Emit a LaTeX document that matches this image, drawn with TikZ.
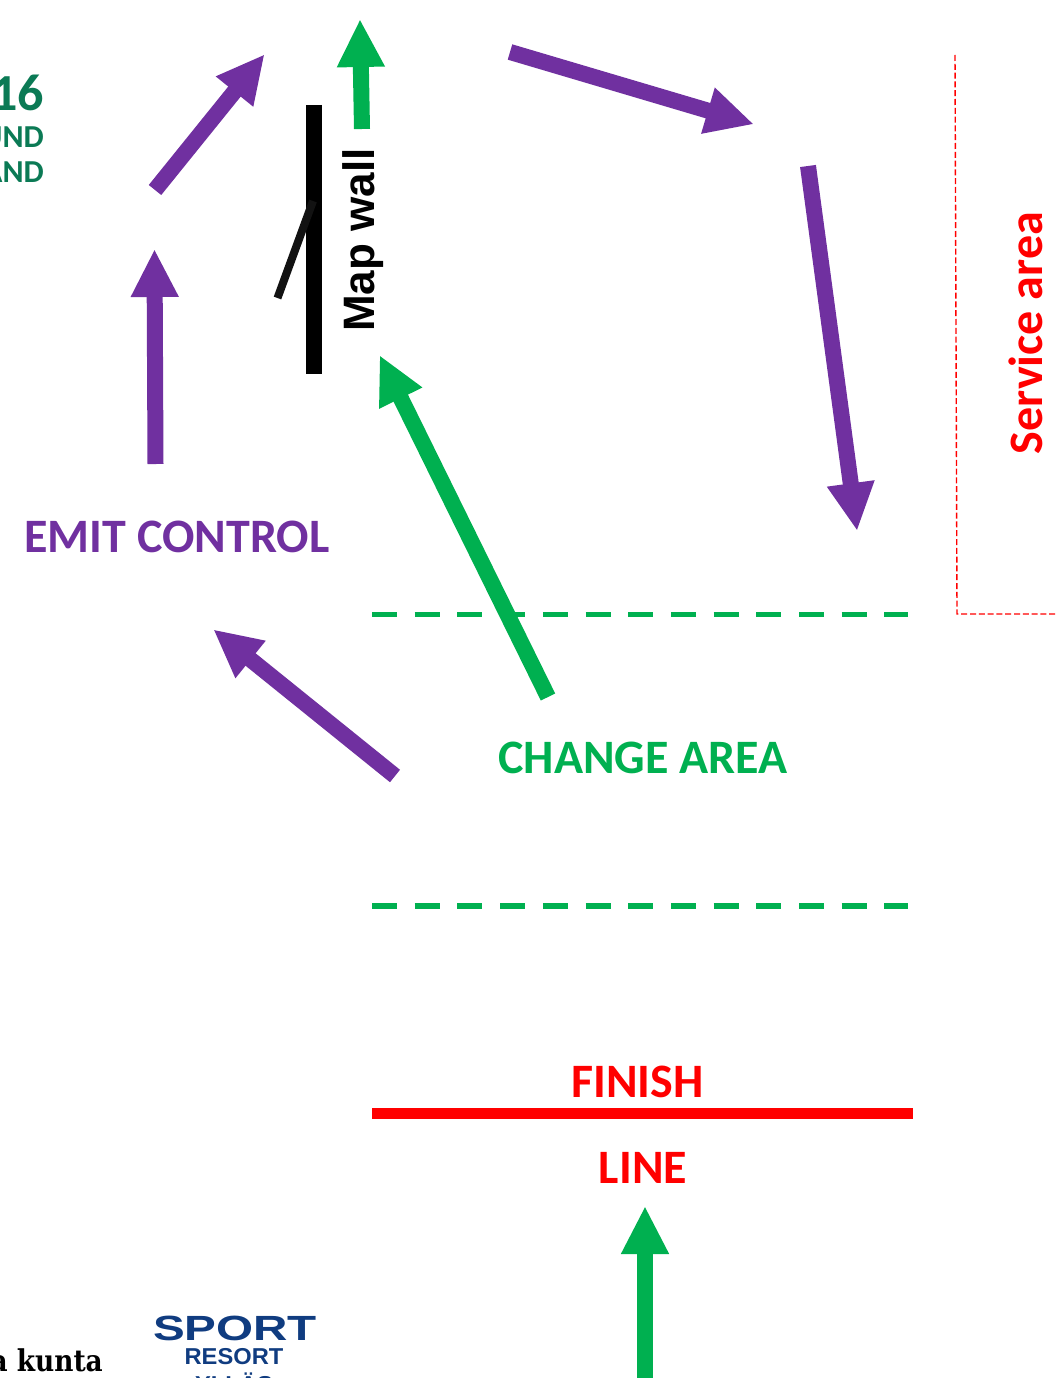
\documentclass[tikz,border=0pt]{standalone}
\usepackage{fontspec}
\usepackage{tikz}
\usetikzlibrary{arrows.meta}
\setmainfont{Carlito}
\newfontfamily\arialfont{Liberation Sans}
\newfontfamily\slabfont{DejaVu Serif}
\definecolor{routepurple}{HTML}{7030A0}
\definecolor{routegreen}{HTML}{00B050}
\definecolor{logogreen}{HTML}{0B7A55}
\definecolor{logoblue}{HTML}{103C80}
\tikzset{
    route/.style={line width=16pt, -{Triangle[length=48pt,width=44.5pt]}, shorten >=-1pt},
    zoneline/.style={routegreen, line width=5.5pt, dash pattern=on 25pt off 17.7pt},
    label/.style={font=\bfseries\fontsize{48}{48}\selectfont, inner sep=0pt},
    logotext/.style={logogreen, font=\bfseries\fontsize{32}{32}\selectfont, inner sep=0pt, anchor=east},
}
\begin{document}
\begin{tikzpicture}[x=1pt, y=-1pt]
    \useasboundingbox (0,0) rectangle (1055,1378);
    % logos
    \node[logogreen, inner sep=0pt, anchor=east, font=\bfseries\fontsize{52}{52}\selectfont] (year) at (44,93) {16};
    \node[logotext] (roundtext) at (44,137) {UND};
    \node[logotext] (landtext) at (44,172) {AND};
    \node[inner sep=0pt, anchor=east, xscale=.88, font=\slabfont\bfseries\fontsize{30}{30}\selectfont] (kunta) at (103,1360) {a kunta};
    \node[logoblue, inner sep=0pt, xscale=1.36, font=\arialfont\bfseries\fontsize{35}{35}\selectfont] (sport) at (235,1328) {SPORT};
    \node[logoblue, inner sep=0pt, xscale=1.03, font=\arialfont\bfseries\fontsize{23}{23}\selectfont] (resort) at (234,1357) {RESORT};
    \node[logoblue, inner sep=0pt, xscale=1.03, font=\arialfont\bfseries\fontsize{23}{23}\selectfont] (yllas) at (234,1383) {YLLÄS};
    % route points
    \coordinate (a1) at (155.5,464);  \coordinate (a2) at (154.5,250);
    \coordinate (b1) at (155,190);    \coordinate (b2) at (264,55);
    \coordinate (c1) at (362,129);    \coordinate (c2) at (360,20);
    \coordinate (d1) at (510,52);     \coordinate (d2) at (753,124);
    \coordinate (e1) at (808,166);    \coordinate (e2) at (857,530);
    \coordinate (f1) at (548,697);    \coordinate (f2) at (380,356);
    \coordinate (g1) at (395,776);    \coordinate (g2) at (214,630);
    \coordinate (h1) at (645,1378);   \coordinate (h2) at (645,1207);
    % service area
    \coordinate (s1) at (955,55);     \coordinate (s2) at (957,614);    \coordinate (s3) at (1055,614);
    \draw[red, line width=1.4pt, dash pattern=on 6pt off 2.8pt] (s1) -- (s2) -- (s3);
    % zone lines
    \coordinate (z1) at (372,614.5);  \coordinate (z2) at (908,614.5);
    \coordinate (z3) at (372,906);    \coordinate (z4) at (908,906);
    \draw[zoneline] (z1) -- (z2);
    \draw[zoneline] (z3) -- (z4);
    \coordinate (l1) at (372,1113);   \coordinate (l2) at (913,1113);
    \draw[red, line width=11pt] (l1) -- (l2);
    % map wall
    \coordinate (w1) at (314,105);    \coordinate (w2) at (314,374);
    \coordinate (w3) at (277.5,298);  \coordinate (w4) at (313,201);
    \draw[black, line width=16pt] (w1) -- (w2);
    \draw[black!93, line width=8pt] (w3) -- (w4);
    % arrows
    \foreach \p/\q in {a1/a2, b1/b2, d1/d2, e1/e2, g1/g2}
        \draw[route, routepurple] (\p) -- (\q);
    \foreach \p/\q in {c1/c2, f1/f2, h1/h2}
        \draw[route, routegreen] (\p) -- (\q);
    % labels
    \node[label, routepurple] (emit) at (177,537) {EMIT CONTROL};
    \node[label, routegreen] (change) at (643,758) {CHANGE AREA};
    \node[label, red] (finish) at (637.5,1082) {FINISH};
    \node[label, red] (line) at (643,1168) {LINE};
    \node[label, red, rotate=90] (service) at (1026,333) {Service area};
    \node[label, rotate=90, font=\arialfont\bfseries\fontsize{44}{44}\selectfont] (mapwall) at (363,240) {Map wall};
\end{tikzpicture}
\end{document}
